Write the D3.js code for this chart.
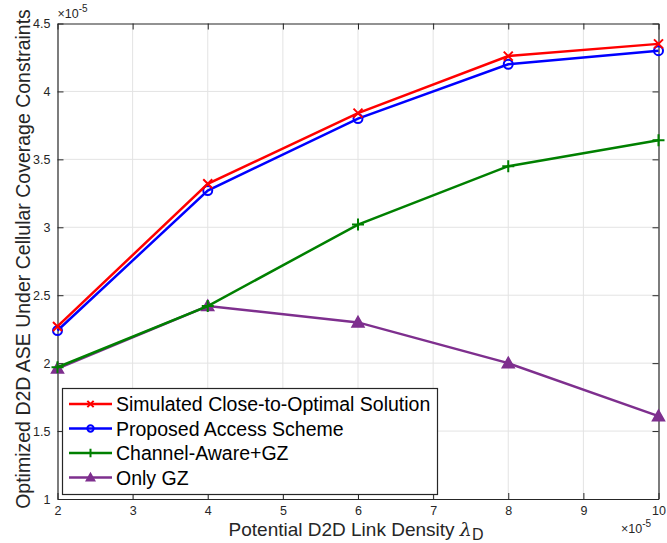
<!DOCTYPE html>
<html>
<head>
<meta charset="utf-8">
<script src="https://cdn.jsdelivr.net/npm/d3@7"></script>
<style>
  body { margin: 0; background: #fff; }
  svg { font-family: "Liberation Sans", Arial, sans-serif; }
</style>
</head>
<body>
<div id="chart"></div>
<script>
let w = 667;
let h = 543;

// data (x and y in units of 1e-5)
let density = [2, 4, 6, 8, 10];
let simulated = [2.27, 3.32, 3.84, 4.26, 4.35];
let proposed = [2.24, 3.27, 3.80, 4.20, 4.30];
let channelAware = [1.97, 2.42, 3.02, 3.45, 3.64];
let onlyGZ = [1.96, 2.42, 2.30, 2.00, 1.61];
let xTicks = [2, 3, 4, 5, 6, 7, 8, 9, 10];
let yTicks = [1, 1.5, 2, 2.5, 3, 3.5, 4, 4.5];
let seriesNames = ["Simulated Close-to-Optimal Solution", "Proposed Access Scheme", "Channel-Aware+GZ", "Only GZ"];

let series = [
  {name: seriesNames[0], values: simulated, color: "#ff0000", marker: "x"},
  {name: seriesNames[1], values: proposed, color: "#0000ff", marker: "o"},
  {name: seriesNames[2], values: channelAware, color: "#008000", marker: "+"},
  {name: seriesNames[3], values: onlyGZ, color: "#7e2f8e", marker: "^"}
];

let plotL = 57.5, plotR = 658.5, plotT = 23.5, plotB = 499;

let viz = d3.select("#chart")
  .append("svg")
  .attr("width", w)
  .attr("height", h);

let xScale = d3.scaleLinear().domain([2, 10]).range([plotL, plotR]);
let yScale = d3.scaleLinear().domain([1, 4.5]).range([plotB, plotT]);

// grid
viz.append("g").selectAll("line").data(xTicks.slice(1, -1)).enter()
  .append("line")
  .attr("x1", d => xScale(d)).attr("x2", d => xScale(d))
  .attr("y1", plotT).attr("y2", plotB)
  .attr("stroke", "#e3e3e3").attr("stroke-width", 1);
viz.append("g").selectAll("line").data(yTicks.slice(1, -1)).enter()
  .append("line")
  .attr("y1", d => yScale(d)).attr("y2", d => yScale(d))
  .attr("x1", plotL).attr("x2", plotR)
  .attr("stroke", "#e3e3e3").attr("stroke-width", 1);

// axes
let tickFmt = d3.format("~g");
let xAxis = d3.axisBottom(xScale).tickValues(xTicks).tickFormat(tickFmt).tickSizeInner(-6).tickSizeOuter(0).tickPadding(7);
let xAxisTop = d3.axisTop(xScale).tickValues(xTicks).tickFormat("").tickSizeInner(-6).tickSizeOuter(0);
let yAxis = d3.axisLeft(yScale).tickValues(yTicks).tickFormat(tickFmt).tickSizeInner(-6).tickSizeOuter(0).tickPadding(7);
let yAxisRight = d3.axisRight(yScale).tickValues(yTicks).tickFormat("").tickSizeInner(-6).tickSizeOuter(0);

let axisGroups = [
  viz.append("g").attr("transform", "translate(0," + plotB + ")").call(xAxis),
  viz.append("g").attr("transform", "translate(0," + plotT + ")").call(xAxisTop),
  viz.append("g").attr("transform", "translate(" + plotL + ",0)").call(yAxis),
  viz.append("g").attr("transform", "translate(" + plotR + ",0)").call(yAxisRight)
];
axisGroups.forEach(g => {
  g.selectAll("path").attr("stroke", "#262626").attr("stroke-width", 1.2);
  g.selectAll("line").attr("stroke", "#262626");
  g.selectAll("text").attr("font-size", 12.5).attr("fill", "#262626").attr("font-family", "Liberation Sans, Arial, sans-serif");
});

// exponent labels
let expTop = viz.append("text").attr("x", plotL).attr("y", 18).attr("font-size", 12.5).attr("fill", "#262626");
expTop.append("tspan").text("\u00d710");
expTop.append("tspan").attr("dy", -6).attr("font-size", 10).text("-5");
let expBot = viz.append("text").attr("x", 621).attr("y", 533).attr("font-size", 12.5).attr("fill", "#262626");
expBot.append("tspan").text("\u00d710");
expBot.append("tspan").attr("dy", -6).attr("font-size", 10).text("-5");

// axis titles
let xTitle = viz.append("text").attr("x", 356).attr("y", 536).attr("text-anchor", "middle")
  .attr("font-size", 19).attr("fill", "#262626");
xTitle.append("tspan").text("Potential D2D Link Density ");
xTitle.append("tspan").attr("font-style", "italic").attr("font-family", "DejaVu Serif, serif").text("\u03bb");
xTitle.append("tspan").attr("dy", 4).attr("font-size", 16).text("D");

viz.append("text")
  .attr("transform", "translate(30,259) rotate(-90)")
  .attr("text-anchor", "middle")
  .attr("font-size", 19.5).attr("fill", "#262626")
  .text("Optimized D2D ASE Under Cellular Coverage Constraints");

// markers
function drawMarker(g, type, color, x, y, s) {
  if (type === "x") {
    let r = 4.5 * s;
    g.append("path").attr("d", "M" + (x-r) + "," + (y-r) + "L" + (x+r) + "," + (y+r) + "M" + (x-r) + "," + (y+r) + "L" + (x+r) + "," + (y-r))
      .attr("stroke", color).attr("stroke-width", 2).attr("fill", "none");
  } else if (type === "o") {
    g.append("circle").attr("cx", x).attr("cy", y).attr("r", 4.5 * s)
      .attr("stroke", color).attr("stroke-width", 2).attr("fill", "none");
  } else if (type === "+") {
    let r = 6 * s;
    g.append("path").attr("d", "M" + (x-r) + "," + y + "L" + (x+r) + "," + y + "M" + x + "," + (y-r) + "L" + x + "," + (y+r))
      .attr("stroke", color).attr("stroke-width", 2).attr("fill", "none");
  } else if (type === "^") {
    let r = 6 * s;
    g.append("path").attr("d", "M" + x + "," + (y-r) + "L" + (x+r) + "," + (y+r*0.75) + "L" + (x-r) + "," + (y+r*0.75) + "Z")
      .attr("stroke", color).attr("stroke-width", 1.5).attr("fill", color);
  }
}

let line = d3.line().x(d => xScale(d[0])).y(d => yScale(d[1]));

// draw back-to-front so red/blue sit on top
series.slice().reverse().forEach(s => {
  let pts = density.map((d, i) => [d, s.values[i]]);
  let g = viz.append("g");
  g.append("path").datum(pts).attr("d", line)
    .attr("fill", "none").attr("stroke", s.color).attr("stroke-width", 2.5);
  pts.forEach(p => drawMarker(g, s.marker, s.color, xScale(p[0]), yScale(p[1]), 1));
});

// legend
let legend = viz.append("g");
legend.append("rect").attr("x", 62.5).attr("y", 388.5).attr("width", 375).attr("height", 106)
  .attr("fill", "#fff").attr("stroke", "#262626").attr("stroke-width", 1.2);
series.forEach((s, i) => {
  let y = 404 + i * 24.5;
  let g = legend.append("g");
  g.append("line").attr("x1", 69).attr("x2", 112).attr("y1", y).attr("y2", y)
    .attr("stroke", s.color).attr("stroke-width", 2.5);
  drawMarker(g, s.marker, s.color, 90.5, y, 0.7);
  legend.append("text").attr("x", 116).attr("y", y + 7).attr("font-size", 19.5).attr("fill", "#000").text(s.name);
});
</script>
</body>
</html>
